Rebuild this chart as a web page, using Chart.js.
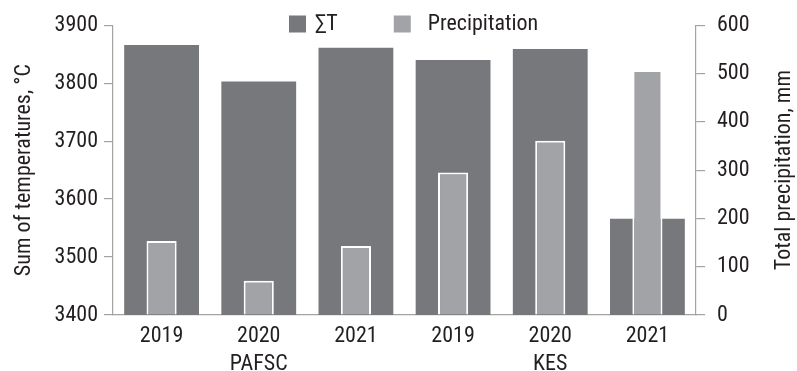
<!DOCTYPE html>
<html>
<head>
<meta charset="utf-8">
<script src="https://cdn.jsdelivr.net/npm/chart.js@4/dist/chart.umd.min.js"></script>
<style>
  html, body { margin: 0; padding: 0; background: #fff; }
  #wrap { width: 797px; height: 371px; position: relative; }
</style>
</head>
<body>
<div id="wrap"><canvas id="tempPrecipChart"></canvas></div>
<script>
// Categories: year per site, site name under the middle year
const years = [['2019'], ['2020', 'PAFSC'], ['2021'], ['2019'], ['2020', 'KES'], ['2021']];
// Sum of active temperatures, °C
const sumTemps = [3866, 3803, 3861, 3840, 3859, 3566];
// Total precipitation, mm
const precipitation = [153, 71, 143, 295, 361, 507];
const tempTicks = [3400, 3500, 3600, 3700, 3800, 3900];
const precipTicks = [0, 100, 200, 300, 400, 500, 600];

const FONT = '"Roboto Condensed", "DejaVu Sans Condensed", sans-serif';
const FONT_SIZE = 22;
const TEXT = '#231f20';
const AXIS = '#a3a3a3';
const DARK = '#77787b';
const LIGHT = '#a2a3a6';

Chart.defaults.font.family = FONT;
Chart.defaults.font.size = FONT_SIZE;
Chart.defaults.color = TEXT;

// Legend above the plot (no layout space) and the right axis title read bottom-to-top
const extraText = {
  id: 'extraText',
  afterDraw(chart) {
    const ctx = chart.ctx;
    const area = chart.chartArea;
    ctx.save();
    ctx.font = FONT_SIZE + 'px ' + FONT;
    ctx.textBaseline = 'middle';

    let x = 289;
    const y = 24;
    chart.data.datasets.forEach((ds, i) => {
      ctx.fillStyle = ds.backgroundColor;
      ctx.fillRect(x, y - 8.5, 17, 17);
      x += 17 + (i === 0 ? 9 : 17);
      ctx.fillStyle = TEXT;
      ctx.textAlign = 'left';
      ctx.fillText(ds.label, x, y);
      x += ctx.measureText(ds.label).width + 56;
    });

    ctx.translate(784, (area.top + area.bottom) / 2);
    ctx.rotate(-Math.PI / 2);
    ctx.textAlign = 'center';
    ctx.fillStyle = TEXT;
    ctx.fillText('Total precipitation, mm', 0, 0);
    ctx.restore();
  },
};

const ctx = document.getElementById('tempPrecipChart');
const chart = new Chart(ctx, {
  type: 'bar',
  data: {
    labels: years,
    datasets: [
      {
        label: '\u2211T',
        data: sumTemps,
        yAxisID: 'y',
        backgroundColor: DARK,
        borderWidth: 0,
        barPercentage: 0.77,
        categoryPercentage: 1,
        grouped: false,
        order: 2,
      },
      {
        label: 'Precipitation',
        data: precipitation,
        yAxisID: 'y1',
        backgroundColor: LIGHT,
        borderColor: '#ffffff',
        borderWidth: 2,
        barPercentage: 0.31,
        categoryPercentage: 1,
        grouped: false,
        order: 1,
      },
    ],
  },
  options: {
    responsive: true,
    maintainAspectRatio: false,
    animation: false,
    layout: {
      padding: { top: 24, left: 0, right: 0, bottom: 0 },
    },
    plugins: {
      legend: { display: false },
      tooltip: { enabled: false },
    },
    scales: {
      x: {
        grid: { display: false },
        border: { display: true, color: AXIS, width: 1.2 },
        ticks: {
          padding: 0,
          maxRotation: 0,
          font: { size: FONT_SIZE, lineHeight: 1.27 },
        },
        afterFit: (scale) => { scale.height = 56; },
      },
      y: {
        position: 'left',
        min: 3400,
        max: 3900,
        afterBuildTicks: (scale) => { scale.ticks = tempTicks.map((v) => ({ value: v })); },
        grid: { drawOnChartArea: false, drawTicks: true, tickLength: 9, color: AXIS, lineWidth: 1.2 },
        border: { display: true, color: AXIS, width: 1.2 },
        ticks: { padding: 6, callback: (v) => String(v) },
        title: {
          display: true,
          text: 'Sum of temperatures, \u00b0C',
          font: { size: FONT_SIZE, lineHeight: 1.2 },
          padding: { top: 11, bottom: 0 },
        },
        afterFit: (scale) => { scale.width = 113; },
      },
      y1: {
        position: 'right',
        min: 0,
        max: 600,
        afterBuildTicks: (scale) => { scale.ticks = precipTicks.map((v) => ({ value: v })); },
        grid: { drawOnChartArea: false, drawTicks: true, tickLength: 9, color: AXIS, lineWidth: 1.2 },
        border: { display: true, color: AXIS, width: 1.2 },
        ticks: { padding: 12, callback: (v) => String(v) },
        afterFit: (scale) => { scale.width = 101; },
      },
    },
  },
  plugins: [extraText],
});
</script>
</body>
</html>
